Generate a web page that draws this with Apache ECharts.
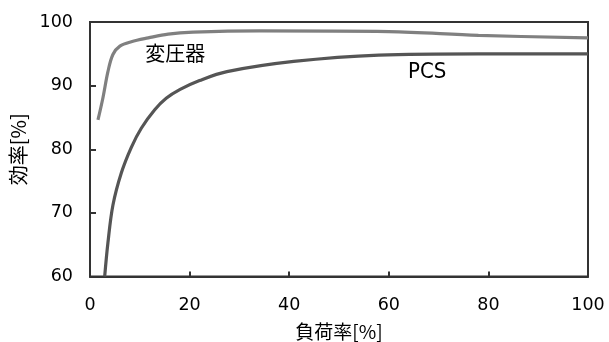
<!DOCTYPE html>
<html>
<head>
<meta charset="utf-8">
<script src="https://cdn.jsdelivr.net/npm/echarts@6/dist/echarts.min.js"></script>
<style>html,body{margin:0;padding:0;background:#fff}#c{width:609px;height:342px}</style>
</head>
<body>
<div id="c"></div>
<script>
var transLoad = [1.6, 2.6, 3.6, 4.6, 6.0, 8.3, 11.7, 15.7, 20.7, 34, 60, 78, 100];
var transEff  = [84.6, 88.1, 92.2, 94.9, 96.2, 96.9, 97.5, 98.1, 98.4, 98.6, 98.5, 97.9, 97.5];
var pcsLoad = [2.95, 3.6, 4.6, 6.3, 8.3, 10.3, 13, 15.3, 18.1, 22, 27.5, 40.9, 58, 78, 100];
var pcsEff  = [60, 65.3, 71.2, 76.3, 80.3, 83.3, 86.2, 88.0, 89.4, 90.8, 92.2, 93.8, 94.8, 95.0, 95.0];
var seriesNames = ['変圧器', 'PCS'];
var xName = '負荷率[%]';
var yName = '効率[%]';

function pairs(xs, ys){ return xs.map(function(x,i){ return [x, ys[i]]; }); }

var font = 'DejaVu Sans, Verdana, sans-serif';
var chart = echarts.init(document.getElementById('c'), null, {renderer:'canvas'});
chart.setOption({
  animation: false,
  backgroundColor: '#fff',
  grid: {left: 90, right: 21, top: 22, bottom: 65.5, containLabel: false, outerBoundsMode: 'none',
    show: true, borderColor: '#333', borderWidth: 2, backgroundColor: 'transparent'},
  xAxis: {
    type: 'value', min: 0, max: 100, interval: 20,
    name: xName, nameLocation: 'middle', nameGap: 46,
    nameTextStyle: {fontSize: 19, color: '#000', fontFamily: 'Noto Sans CJK JP'},
    axisLine: {show: true, lineStyle: {color: '#333', width: 2}},
    axisTick: {show: true, inside: true, length: 5, lineStyle: {color: '#333', width: 2}},
    axisLabel: {fontSize: 17.5, color: '#000', fontFamily: font, margin: 20},
    splitLine: {show: false}
  },
  yAxis: {
    type: 'value', min: 60, max: 100, interval: 10,
    name: yName, nameLocation: 'middle', nameGap: 62, nameRotate: 90,
    nameTextStyle: {fontSize: 20, color: '#000', fontFamily: 'Noto Sans CJK JP'},
    axisLine: {show: true, lineStyle: {color: '#333', width: 2}},
    axisTick: {show: true, inside: true, length: 6, lineStyle: {color: '#333', width: 2}},
    axisLabel: {fontSize: 17.5, color: '#000', fontFamily: font, margin: 17},
    splitLine: {show: false}
  },
  series: [
    {
      name: seriesNames[0], type: 'line', smooth: 0.35, symbol: 'none',
      data: pairs(transLoad, transEff),
      lineStyle: {color: '#808080', width: 3.2},
      markPoint: {symbol: 'circle', symbolSize: 0,
        label: {show: true, formatter: seriesNames[0], fontSize: 20, color: '#000', fontFamily: 'Noto Sans CJK JP', position: 'inside'},
        data: [{coord: [17.1, 95.0]}]}
    },
    {
      name: seriesNames[1], type: 'line', smooth: 0.35, symbol: 'none',
      data: pairs(pcsLoad, pcsEff),
      lineStyle: {color: '#555555', width: 3.2},
      markPoint: {symbol: 'circle', symbolSize: 0,
        label: {show: true, formatter: seriesNames[1], fontSize: 22, color: '#000', fontFamily: 'DejaVu Sans Condensed, DejaVu Sans, sans-serif', position: 'inside'},
        data: [{coord: [67.7, 92.1]}]}
    }
  ]
});
</script>
</body>
</html>
